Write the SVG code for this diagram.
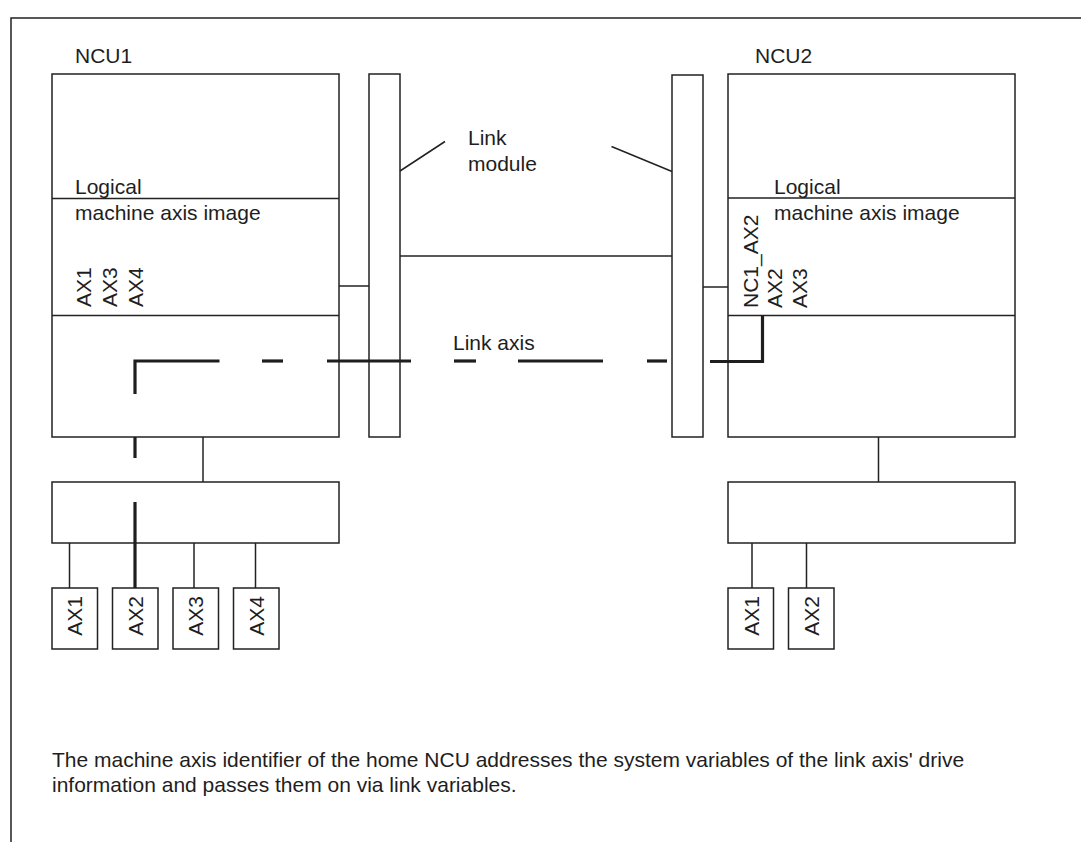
<svg xmlns="http://www.w3.org/2000/svg" width="1081" height="842" viewBox="0 0 1081 842">
<style>
.box{fill:#fff;stroke:#222;stroke-width:1.5}
.ln{fill:none;stroke:#222;stroke-width:1.5}
.thick{fill:none;stroke:#1e1e1e;stroke-width:3.2;stroke-linecap:butt}
.t{font-family:"Liberation Sans",Arial,sans-serif;font-size:21px;fill:#1e1e1e}
</style>
<rect width="1081" height="842" fill="#fff"/>
<path class="ln" d="M11,842 V18 H1081"/>

<g id="ncu1">
<text class="t" x="75" y="63">NCU1</text>
<rect class="box" x="52" y="74" width="287" height="363"/>
<line class="ln" x1="52" y1="198.5" x2="339" y2="198.5"/>
<line class="ln" x1="52" y1="315.5" x2="339" y2="315.5"/>
<text class="t" x="75" y="194">Logical</text>
<text class="t" x="75" y="220">machine axis image</text>
<text class="t" transform="translate(90.5,307) rotate(-90)">AX1</text>
<text class="t" transform="translate(116.5,307) rotate(-90)">AX3</text>
<text class="t" transform="translate(142.5,307) rotate(-90)">AX4</text>
</g>

<g id="link-module-1">
<rect class="box" x="369" y="74" width="31" height="363"/>
</g>
<g id="link-module-2">
<rect class="box" x="672" y="75" width="31" height="362"/>
</g>
<g id="link-module-label">
<text class="t" x="468" y="145">Link</text>
<text class="t" x="468" y="171">module</text>
</g>

<g id="ncu2">
<text class="t" x="755" y="63">NCU2</text>
<rect class="box" x="728" y="74" width="287" height="363"/>
<line class="ln" x1="728" y1="198" x2="1015" y2="198"/>
<line class="ln" x1="728" y1="315.5" x2="1015" y2="315.5"/>
<text class="t" x="774" y="194">Logical</text>
<text class="t" x="774" y="220">machine axis image</text>
<text class="t" transform="translate(757.5,308) rotate(-90)">NC1_AX2</text>
<text class="t" transform="translate(782,308) rotate(-90)">AX2</text>
<text class="t" transform="translate(807,308) rotate(-90)">AX3</text>
</g>

<g id="drive1">
<rect class="box" x="52" y="482" width="287" height="61"/>
</g>
<g id="drive2">
<rect class="box" x="728" y="482" width="287" height="61"/>
</g>

<g id="ax1-1"><rect class="box" x="52" y="588" width="45.5" height="61"/><text class="t" text-anchor="middle" transform="translate(82,616) rotate(-90)">AX1</text></g>
<g id="ax1-2"><rect class="box" x="112.5" y="588" width="45.5" height="61"/><text class="t" text-anchor="middle" transform="translate(142.5,616) rotate(-90)">AX2</text></g>
<g id="ax1-3"><rect class="box" x="173" y="588" width="45.5" height="61"/><text class="t" text-anchor="middle" transform="translate(203,616) rotate(-90)">AX3</text></g>
<g id="ax1-4"><rect class="box" x="233.5" y="588" width="45.5" height="61"/><text class="t" text-anchor="middle" transform="translate(263.5,616) rotate(-90)">AX4</text></g>
<g id="ax2-1"><rect class="box" x="728" y="588" width="45.5" height="61"/><text class="t" text-anchor="middle" transform="translate(758.5,616) rotate(-90)">AX1</text></g>
<g id="ax2-2"><rect class="box" x="788.5" y="588" width="45.5" height="61"/><text class="t" text-anchor="middle" transform="translate(819,616) rotate(-90)">AX2</text></g>

<g id="connectors">
<line class="ln" x1="339" y1="286" x2="369" y2="286"/>
<line class="ln" x1="400" y1="256" x2="672" y2="256"/>
<line class="ln" x1="703" y1="287" x2="728" y2="287"/>
<line class="ln" x1="400" y1="171" x2="445" y2="141.5"/>
<line class="ln" x1="611.5" y1="146.5" x2="672" y2="171.5"/>
<line class="ln" x1="203" y1="437" x2="203" y2="482"/>
<line class="ln" x1="878.5" y1="437" x2="878.5" y2="482"/>
<line class="ln" x1="69.5" y1="543" x2="69.5" y2="588"/>
<line class="ln" x1="194" y1="543" x2="194" y2="588"/>
<line class="ln" x1="255.5" y1="543" x2="255.5" y2="588"/>
<line class="ln" x1="752" y1="543" x2="752" y2="588"/>
<line class="ln" x1="806.5" y1="543" x2="806.5" y2="588"/>
<g id="link-axis">
<polyline class="thick" points="135,394 135,361 219.5,361"/>
<line class="thick" x1="262" y1="361" x2="283" y2="361"/>
<line class="thick" x1="327" y1="361" x2="411" y2="361"/>
<line class="thick" x1="454" y1="361" x2="476" y2="361"/>
<line class="thick" x1="518" y1="361" x2="603" y2="361"/>
<line class="thick" x1="647" y1="361" x2="667" y2="361"/>
<polyline class="thick" points="710,361.5 762.5,361.5 762.5,316"/>
<line class="thick" x1="135" y1="437" x2="135" y2="458"/>
<line class="thick" x1="135" y1="502" x2="135" y2="588"/>
</g>
<text class="t" x="453" y="350">Link axis</text>
</g>

<g id="caption">
<text class="t" x="52" y="767">The machine axis identifier of the home NCU addresses the system variables of the link axis' drive</text>
<text class="t" x="52" y="792">information and passes them on via link variables.</text>
</g>
</svg>
